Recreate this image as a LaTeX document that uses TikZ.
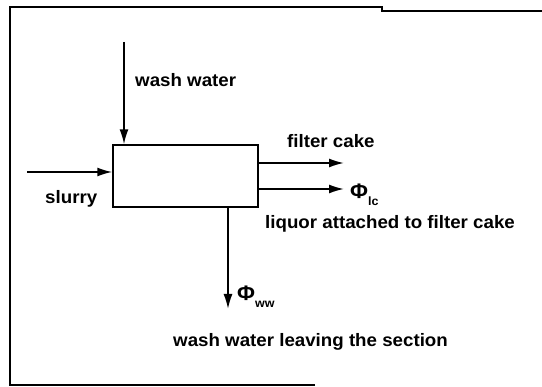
\documentclass[tikz,border=0pt]{standalone}
\usepackage{fontspec}
\setmainfont[FakeStretch=1.04]{Liberation Sans}
\usetikzlibrary{arrows.meta,positioning,calc}

\begin{document}
\begin{tikzpicture}[x=1pt,y=-1pt,
          unit/.style={rectangle,draw,line width=1.4pt,minimum width=145pt,
                       minimum height=62pt,inner sep=0pt},
          flow/.style={draw,line width=1.7pt,-{Latex[length=15pt,width=9pt]}},
          lbl/.style={font=\fontsize{18}{20}\selectfont\bfseries,inner sep=0pt,anchor=base west},
          sym/.style={font=\fontsize{21}{23}\selectfont\bfseries,inner sep=0pt,anchor=base west}]
        \useasboundingbox (0,0) rectangle (542,387);
        % frame of the scanned figure
        \draw[line width=2pt] (315,385) -- (10,385) -- (10,7) -- (382,7) -- (382,11) -- (542,11);
        % washing section
        \node[unit] (section) at (185.5,176) {};
        \coordinate (washin) at (124,42);
        \coordinate (slurryin) at (27,172);
        \coordinate (cakeout) at (344,163);
        \coordinate (liqout) at (344,189);
        \coordinate (wwout) at (228,309);
        \draw[flow] (washin) -- (washin |- section.north);
        \draw[flow] (slurryin) -- (slurryin -| section.west);
        \draw[flow] (cakeout -| section.east) -- (cakeout);
        \draw[flow] (liqout -| section.east) -- (liqout);
        \draw[flow] (wwout |- section.south) -- (wwout);
        % labels
        \node[lbl] (washlbl) at (135,87) {wash water};
        \node[lbl] (slurrylbl) at (45,204) {slurry};
        \node[lbl] (cakelbl) at (287,148) {filter cake};
        \node[sym] (philc) at (350,199) {Φ\raisebox{-7pt}{\fontsize{12}{12}\selectfont lc}};
        \node[lbl] (liqlbl) at (265,229) {liquor attached to filter cake};
        \node[sym] (phiww) at (237,301) {Φ\raisebox{-7pt}{\fontsize{12}{12}\selectfont ww}};
        \node[lbl] (wwlbl) at (173,347) {wash water leaving the section};
        \end{tikzpicture}
\end{document}
